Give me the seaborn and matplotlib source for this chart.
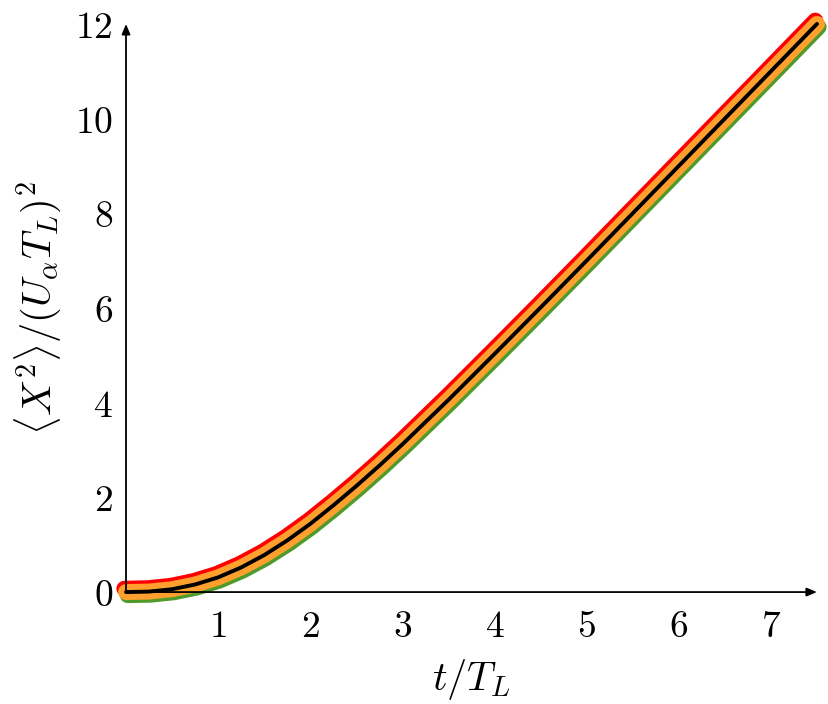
import numpy as np
import pandas as pd
import matplotlib
matplotlib.use("Agg")
import matplotlib.pyplot as plt
import matplotlib.patheffects as pe
import seaborn as sns

# data
t_vals = [0.0, 0.25, 0.5, 0.75, 1.0, 1.25, 1.5, 1.75, 2.0, 2.25, 2.5, 2.75,
          3.0, 3.5, 4.0, 4.5, 5.0, 5.5, 6.0, 6.5, 7.0, 7.5]
x2_vals = [0.0, 0.01, 0.06, 0.16, 0.31, 0.52, 0.78, 1.09, 1.44, 1.83, 2.24, 2.67,
           3.12, 4.06, 5.03, 6.01, 7.00, 8.00, 9.00, 10.00, 11.00, 12.00]
x_ticks = [1, 2, 3, 4, 5, 6, 7]
y_ticks = [0, 2, 4, 6, 8, 10, 12]

sns.set_style("white")
plt.rcParams["mathtext.fontset"] = "cm"
plt.rcParams["font.family"] = ["DejaVu Serif"]
plt.rcParams["text.color"] = "black"
plt.rcParams["axes.labelcolor"] = "black"
plt.rcParams["xtick.labelcolor"] = "black"
plt.rcParams["ytick.labelcolor"] = "black"

df = pd.DataFrame({"t": t_vals, "x2": x2_vals})

fig = plt.figure(figsize=(8.29, 7.04), dpi=100)
ax = fig.add_axes([0.152, 0.159, 0.8335, 0.807])

orange = "#ff9f2e"
sns.lineplot(data=df, x="t", y="x2", ax=ax, color=orange, lw=11.5,
             solid_capstyle="round", clip_on=False)
line_o = ax.lines[-1]
line_o.set_path_effects([
    pe.SimpleLineShadow(offset=(-1.2, 2.4), shadow_color="#ff0000", alpha=1.0, rho=1.0),
    pe.SimpleLineShadow(offset=(1.2, -2.2), shadow_color="#4f9a2a", alpha=1.0, rho=1.0),
    pe.Normal(),
])
sns.lineplot(data=df, x="t", y="x2", ax=ax, color="black", lw=2.8, clip_on=False)

ax.set_xlim(0, 7.5)
ax.set_ylim(0, 12)
ax.set_xticks(x_ticks)
ax.set_yticks(y_ticks)
ax.set_xticklabels([f"${v}$" for v in x_ticks], fontsize=27, color="black")
ax.set_yticklabels([f"${v}$" for v in y_ticks], fontsize=27, color="black")
ax.tick_params(direction="inout", length=9, width=0.6, color="#999999", pad=5)
ax.tick_params(axis="x", pad=8)
for s in ["top", "right", "left", "bottom"]:
    ax.spines[s].set_visible(False)
ax.annotate("", xy=(1.0, 0), xytext=(0, 0), xycoords="axes fraction",
            arrowprops=dict(arrowstyle="-|>,head_length=0.6,head_width=0.25",
                            color="black", lw=1.3, shrinkA=0, shrinkB=0))
ax.annotate("", xy=(0, 1.0), xytext=(0, 0), xycoords="axes fraction",
            arrowprops=dict(arrowstyle="-|>,head_length=0.6,head_width=0.25",
                            color="black", lw=1.3, shrinkA=0, shrinkB=0))
ax.set_xlabel(r"$t/T_L$", fontsize=29, labelpad=8, color="black")
ax.set_ylabel(r"$\langle X^2\rangle/(U_\alpha T_L)^2$", fontsize=29, labelpad=8,
              color="black")

fig.savefig("out.png", dpi=100)
